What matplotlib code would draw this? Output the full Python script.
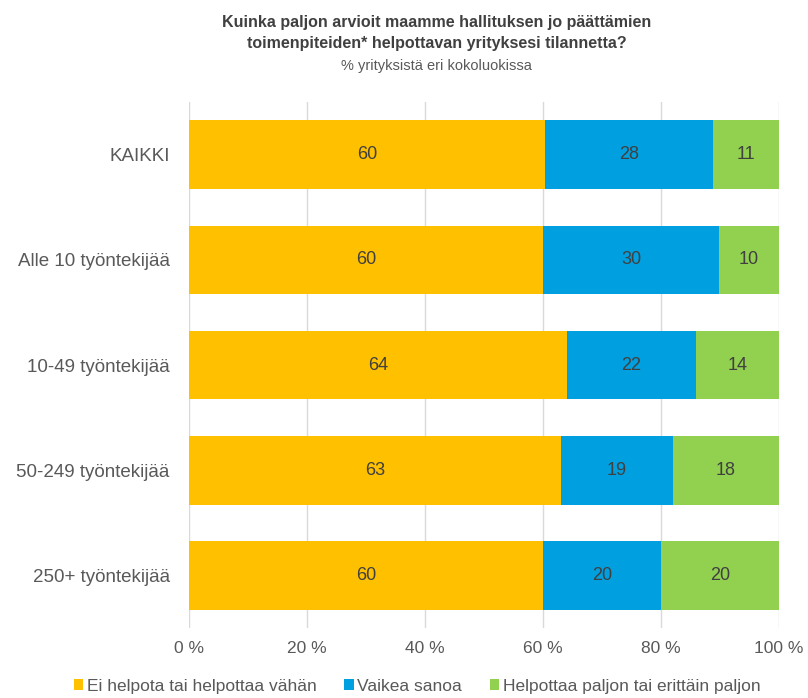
import numpy as np
import matplotlib
matplotlib.use("Agg")
import matplotlib.pyplot as plt

plt.rcParams["font.family"] = ["Liberation Sans", "DejaVu Sans"]

# Data (% of firms per size class)
categories = ["KAIKKI", "Alle 10 työntekijää", "10-49 työntekijää",
              "50-249 työntekijää", "250+ työntekijää"]
ei_helpota = [60.4, 60.0, 64.1, 63.0, 60.0]
vaikea_sanoa = [28.4, 29.9, 21.8, 19.0, 20.0]
helpottaa = [11.2, 10.1, 14.1, 18.0, 20.0]
series_names = ["Ei helpota tai helpottaa vähän", "Vaikea sanoa",
                "Helpottaa paljon tai erittäin paljon"]
colors = ["#FFC000", "#009FDF", "#92D050"]
xticks = [0, 20, 40, 60, 80, 100]

TXT = "#404040"
GREY = "#595959"

fig = plt.figure(figsize=(8.08, 6.98), dpi=100)
ax = fig.add_axes([0.234, 0.100, 0.730, 0.754])

y = np.arange(len(categories))
left = np.zeros(len(categories))
for vals, name, col in zip([ei_helpota, vaikea_sanoa, helpottaa], series_names, colors):
    vals = np.array(vals)
    bars = ax.barh(y, vals, left=left, height=0.65, color=col, label=name, zorder=2)
    for b, v in zip(bars, vals):
        ax.text(b.get_x() + b.get_width() / 2, b.get_y() + b.get_height() / 2,
                f"{round(v):d}", ha="center", va="center", fontsize=13, color=TXT)
    left += vals

ax.set_xlim(0, 100)
ax.set_ylim(len(categories) - 0.5, -0.5)
ax.set_xticks(xticks)
ax.set_xticklabels([f"{t} %" for t in xticks], color=GREY, fontsize=12.5)
ax.set_yticks(y)
ax.set_yticklabels(categories, color=GREY, fontsize=13.5)
ax.tick_params(axis="x", length=0, pad=9)
ax.tick_params(axis="y", length=0, pad=14)
ax.grid(axis="x", color="#D9D9D9", lw=1, zorder=0)
for s in ax.spines.values():
    s.set_visible(False)

fig.text(0.54, 0.968, "Kuinka paljon arvioit maamme hallituksen jo päättämien",
         ha="center", va="center", fontsize=11.5, weight="bold", color=TXT)
fig.text(0.54, 0.938, "toimenpiteiden* helpottavan yrityksesi tilannetta?",
         ha="center", va="center", fontsize=11.5, weight="bold", color=TXT)
fig.text(0.54, 0.906, "% yrityksistä eri kokoluokissa",
         ha="center", va="center", fontsize=10.5, color=GREY)

handles, labels = ax.get_legend_handles_labels()
fig.legend(handles, labels, loc="center", bbox_to_anchor=(0.516, 0.017), ncol=3,
           frameon=False, fontsize=12.5, handlelength=0.55, handleheight=0.55,
           handletextpad=0.2, columnspacing=1.6, labelcolor=GREY)

fig.savefig("out.png", dpi=100)
